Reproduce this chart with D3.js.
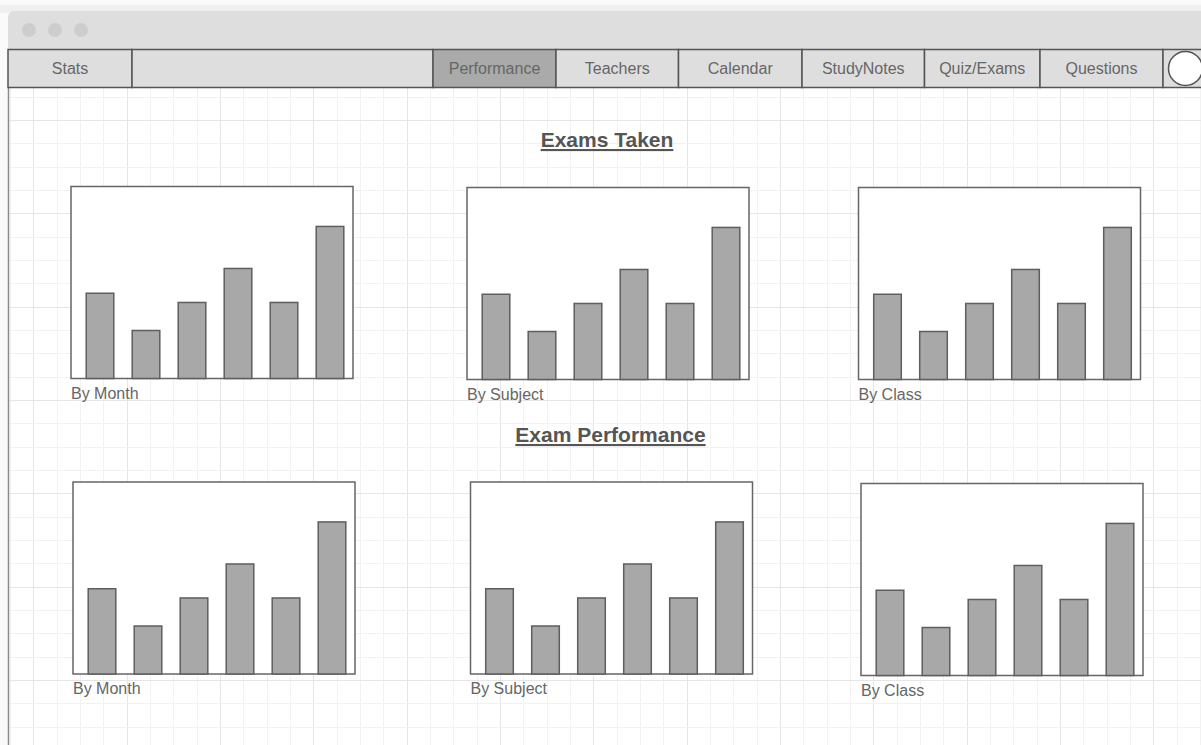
<!DOCTYPE html>
<html>
<head>
<meta charset="utf-8">
<script src="https://cdn.jsdelivr.net/npm/d3@7/dist/d3.min.js"></script>
<style>
  body { margin: 0; background: #fff; }
  svg { display: block; font-family: "Liberation Sans", Arial, sans-serif; }
</style>
</head>
<body>
<div id="mockup"></div>
<script>
// chart data
var navTabs = ["Stats", "", "Performance", "Teachers", "Calendar", "StudyNotes", "Quiz/Exams", "Questions"];
var activeTab = "Performance";
var sectionTitles = ["Exams Taken", "Exam Performance"];
var chartLabels = ["By Month", "By Subject", "By Class"];
var barCategories = ["1", "2", "3", "4", "5", "6"];
var barValues = [44.4, 25, 39.6, 57.3, 39.6, 79.2];

var width = 1201, height = 745;

// layout of the page (pixels)
var navEdges = [8, 132, 433, 556, 678.5, 802, 924.5, 1040, 1163];
var navTop = 49.5, navBottom = 87.5;
var cell = 23.333;
var boxW = 282, boxH = 192;
var boxes = [
    {x: 71, y: 186.5}, {x: 467, y: 187.5}, {x: 858.5, y: 187.5},
    {x: 73, y: 482}, {x: 470.5, y: 482}, {x: 861, y: 483.5}
];
var titlePos = [{x: 607, y: 147}, {x: 610.5, y: 442}];

var svg = d3.select("#mockup").append("svg")
    .attr("width", width)
    .attr("height", height);

/** background + browser window **/
svg.append("rect").attr("width", width).attr("height", height).attr("fill", "#fafafa");
svg.append("rect").attr("x", 0).attr("y", 5).attr("width", width).attr("height", 8).attr("fill", "#efefef");
svg.append("rect")
    .attr("x", 8).attr("y", 11).attr("width", width + 20).attr("height", height + 20)
    .attr("rx", 6).attr("fill", "#dedede");
svg.append("rect")
    .attr("x", 8).attr("y", navBottom).attr("width", width).attr("height", height)
    .attr("fill", "#fff");

// grid in the content area
var grid = svg.append("g");
for (var k = 0; 10 + k * cell < width; k++) {
    var gx = Math.round(10 + k * cell) + 0.5;
    grid.append("line")
        .attr("x1", gx).attr("x2", gx).attr("y1", navBottom).attr("y2", height)
        .attr("stroke", (k % 4 === 1) ? "#e6e6e6" : "#f2f2f2");
}
for (var k = 2; 50 + k * cell < height; k++) {
    var gy = Math.round(50 + k * cell) + 0.5;
    grid.append("line")
        .attr("x1", 8).attr("x2", width).attr("y1", gy).attr("y2", gy)
        .attr("stroke", (k % 4 === 3) ? "#e6e6e6" : "#f2f2f2");
}

// window left edge
svg.append("line")
    .attr("x1", 8.5).attr("x2", 8.5).attr("y1", navBottom).attr("y2", height)
    .attr("stroke", "#8a8a8a").attr("stroke-width", 1.5);

// traffic light dots
svg.selectAll("circle.dot").data([29, 55, 81]).enter().append("circle")
    .attr("class", "dot")
    .attr("cx", function (d) { return d; })
    .attr("cy", 30)
    .attr("r", 7)
    .attr("fill", "#cdcdcd");

/** NAV BAR **/
var nav = svg.append("g");
nav.selectAll("rect").data(navTabs).enter().append("rect")
    .attr("x", function (d, i) { return navEdges[i]; })
    .attr("y", navTop)
    .attr("width", function (d, i) { return navEdges[i + 1] - navEdges[i]; })
    .attr("height", navBottom - navTop)
    .attr("fill", function (d) { return d === activeTab ? "#aaaaaa" : "#dedede"; })
    .attr("stroke", "#555")
    .attr("stroke-width", 1.5);
nav.selectAll("text").data(navTabs).enter().append("text")
    .attr("x", function (d, i) { return (navEdges[i] + navEdges[i + 1]) / 2; })
    .attr("y", (navTop + navBottom) / 2 + 5.5)
    .attr("text-anchor", "middle")
    .attr("font-size", 16)
    .attr("fill", "#666")
    .text(function (d) { return d; });

// the last cell + user circle
nav.append("rect")
    .attr("x", navEdges[navEdges.length - 1]).attr("y", navTop)
    .attr("width", 60).attr("height", navBottom - navTop)
    .attr("fill", "#dedede").attr("stroke", "#555").attr("stroke-width", 1.5);
nav.append("circle")
    .attr("cx", 1185.5).attr("cy", 68.5).attr("r", 17)
    .attr("fill", "#fff").attr("stroke", "#555").attr("stroke-width", 1.5);

/** SECTION TITLES **/
svg.selectAll("text.title").data(sectionTitles).enter().append("text")
    .attr("class", "title")
    .attr("x", function (d, i) { return titlePos[i].x; })
    .attr("y", function (d, i) { return titlePos[i].y; })
    .attr("text-anchor", "middle")
    .attr("font-size", 21)
    .attr("font-weight", "bold")
    .attr("fill", "#555")
    .attr("text-decoration", "underline")
    .text(function (d) { return d; });

/** BAR CHARTS **/
function drawBarChart(box, label) {
    var g = svg.append("g");
    var x = d3.scaleBand()
        .domain(barCategories)
        .range([box.x + 6, box.x + boxW])
        .paddingInner(0.4)
        .paddingOuter(0.2);
    var y = d3.scaleLinear()
        .domain([0, 100])
        .range([box.y + boxH, box.y]);

    g.append("rect")
        .attr("x", box.x).attr("y", box.y)
        .attr("width", boxW).attr("height", boxH)
        .attr("fill", "#fff").attr("stroke", "#666").attr("stroke-width", 1.5);

    g.selectAll("rect.bar").data(barValues).enter().append("rect")
        .attr("class", "bar")
        .attr("x", function (d, i) { return x(barCategories[i]); })
        .attr("y", function (d) { return y(d); })
        .attr("width", x.bandwidth())
        .attr("height", function (d) { return y(0) - y(d); })
        .attr("fill", "#a8a8a8")
        .attr("stroke", "#5e5e5e")
        .attr("stroke-width", 1.5);

    g.append("text")
        .attr("x", box.x)
        .attr("y", box.y + boxH + 20)
        .attr("font-size", 16)
        .attr("fill", "#666")
        .text(label);
}

for (var i = 0; i < boxes.length; i++) {
    drawBarChart(boxes[i], chartLabels[i % 3]);
}
</script>
</body>
</html>
